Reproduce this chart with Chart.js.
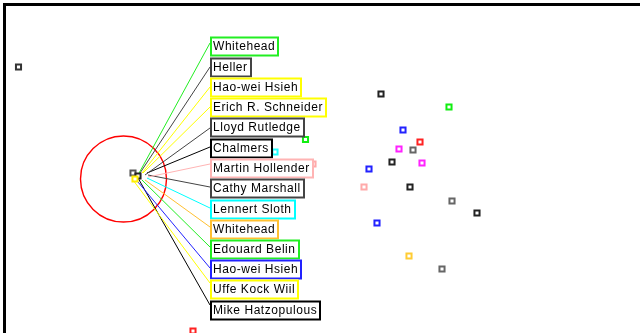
<!DOCTYPE html>
<html>
<head>
<meta charset="utf-8">
<script src="https://cdn.jsdelivr.net/npm/chart.js@4"></script>
<style>
    html, body { margin: 0; padding: 0; background: #fff; }
    #wrap { position: relative; width: 640px; height: 333px; }
</style>
</head>
<body>
<div id="wrap"><canvas id="graph"></canvas></div>
<script>
// layout coordinates of the loose nodes
const nodeX = [18.5, 381, 449, 403, 420, 399, 413, 392, 422, 369, 364, 410, 452, 477, 377, 409, 442, 305.5, 313, 275, 193, 133, 138, 135];
const nodeY = [67, 94, 107, 130, 142, 149, 150, 162, 163, 169, 187, 187, 201, 213, 223, 256, 269, 139.5, 164, 152, 331, 173, 176, 179];
const nodeColors = ['#333', '#222', '#11ee11', '#2222ff', '#ff2222', '#ff22ff', '#666', '#222', '#ff22ff', '#2222ff',
    '#ffaaaa', '#222', '#666', '#222', '#2222ff', '#ffcc33', '#666', '#11ee11', '#ffaaaa', '#22ffff', '#ff2222', '#555', '#222', '#ffee00'];

// selected cluster and its member labels
const focusX = 123.5, focusY = 179, focusR = 43;
const names = ['Whitehead', 'Heller', 'Hao-wei Hsieh', 'Erich R. Schneider', 'Lloyd Rutledge', 'Chalmers', 'Martin Hollender',
    'Cathy Marshall', 'Lennert Sloth', 'Whitehead', 'Edouard Belin', 'Hao-wei Hsieh', 'Uffe Kock Wiil', 'Mike Hatzopulous'];
const fromX = [138, 140, 142, 143, 145, 147, 148, 148, 147, 145, 142, 138, 133, 138];
const fromY = [175, 173, 173, 173, 175, 173, 177, 175, 178, 180, 180, 182, 180, 178];
const labelX = 210;
const labelY = [46.5, 67, 87, 107, 127.5, 147.5, 167.5, 188, 208.5, 228.5, 248.5, 269, 289, 309.5];
const edgeY = [43, 67, 87, 107, 128, 147, 164, 187, 208, 227, 247, 268, 283, 305];
const labelColors = ['#22ee22', '#444', '#ffff00', '#ffff00', '#444', '#000', '#ffb4b4',
    '#444', '#00ffff', '#ffc030', '#22ee22', '#2222ff', '#ffff00', '#000'];

const linkSets = names.map((n, i) => ({
    type: 'line',
    data: [{ x: fromX[i], y: fromY[i] }, { x: labelX, y: edgeY[i] }],
    borderColor: labelColors[i],
    borderWidth: 1,
    pointRadius: 0,
    fill: false,
    order: 3
}));

const frame = {
    id: 'frame',
    beforeDraw(chart) {
        const ctx = chart.ctx;
        ctx.save();
        ctx.fillStyle = '#fff';
        ctx.fillRect(0, 0, chart.width, chart.height);
        ctx.fillStyle = '#000';
        ctx.fillRect(3, 3, chart.width - 3, 3);
        ctx.fillRect(3, 3, 3, chart.height - 3);
        ctx.restore();
    }
};

const labelBoxes = {
    id: 'labelBoxes',
    afterDatasetsDraw(chart) {
        const ctx = chart.ctx;
        const xs = chart.scales.x, ys = chart.scales.y;
        ctx.save();
        ctx.font = '12px "Liberation Sans", Arial, sans-serif';
        ctx.letterSpacing = '0.55px';
        ctx.textBaseline = 'middle';
        names.forEach((name, i) => {
            const px = Math.round(xs.getPixelForValue(labelX));
            const py = Math.round(ys.getPixelForValue(labelY[i]));
            const w = Math.round(ctx.measureText(name).width) + 6;
            const h = 19;
            ctx.fillStyle = '#fff';
            ctx.fillRect(px, py - h / 2, w, h);
            ctx.strokeStyle = labelColors[i];
            ctx.lineWidth = 2;
            ctx.strokeRect(px + 1, py - h / 2 + 1, w - 1, h - 1);
            ctx.fillStyle = '#000';
            ctx.fillText(name, px + 3, py + 1);
        });
        ctx.restore();
    }
};

new Chart(document.getElementById('graph'), {
    type: 'scatter',
    data: {
        datasets: [
            {
                data: nodeX.map((x, i) => ({ x, y: nodeY[i] })),
                pointStyle: 'rect',
                pointRadius: 3.6,
                pointBorderWidth: 2,
                pointBorderColor: nodeColors,
                pointBackgroundColor: '#fff',
                order: 2
            },
            {
                data: [{ x: focusX, y: focusY }],
                pointStyle: 'circle',
                pointRadius: focusR,
                pointBorderWidth: 1.4,
                pointBorderColor: '#ff0000',
                pointBackgroundColor: 'rgba(0,0,0,0)',
                order: 4
            },
            ...linkSets
        ]
    },
    options: {
        responsive: true,
        maintainAspectRatio: false,
        animation: false,
        clip: false,
        layout: { padding: 0, autoPadding: false },
        plugins: { legend: { display: false }, tooltip: { enabled: false } },
        scales: {
            x: { type: 'linear', min: 0, max: 640, display: false },
            y: { type: 'linear', min: 0, max: 333, reverse: true, display: false }
        }
    },
    plugins: [frame, labelBoxes]
});
</script>
</body>
</html>
